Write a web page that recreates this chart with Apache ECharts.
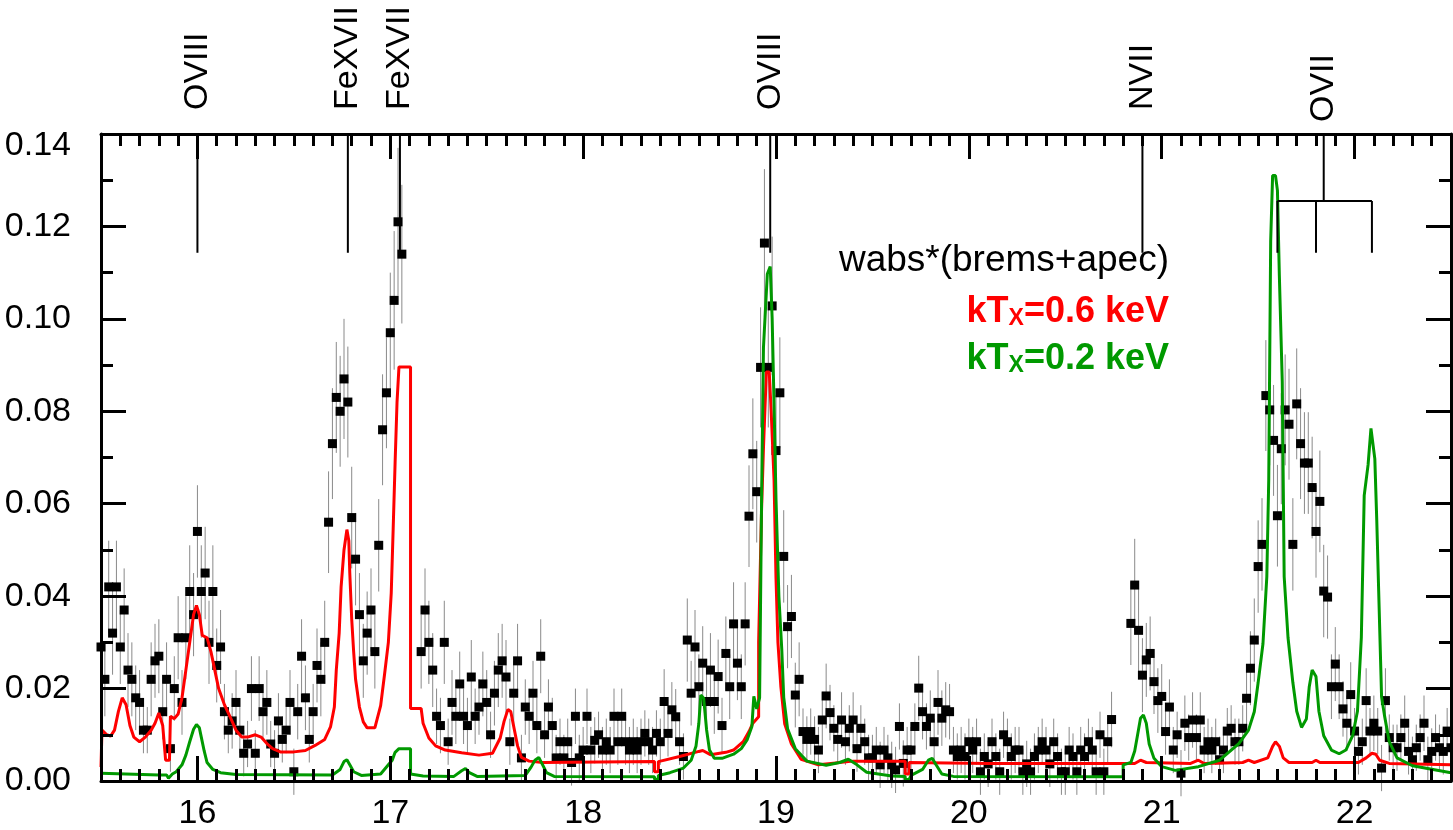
<!DOCTYPE html>
<html><head><meta charset="utf-8">
<script src="https://cdn.jsdelivr.net/npm/echarts@6/dist/echarts.min.js"></script>
<style>html,body{margin:0;padding:0;background:#fff}#c{width:1453px;height:830px}</style>
</head><body><div id="c"></div>
<script>
// wavelength grid of the binned spectrum (Angstrom)
const lamStart = 15.5, lamStep = 0.02;
// observed flux per bin (null = no data)
const flux = [
.029,.022,.042,.032,.042,.029,.037,.024,.022,.018,
.017,.011,.011,.022,.026,.027,.015,.022,.007,.020,
.031,.017,.031,.041,.036,.054,.041,.045,.030,.041,
.025,.029,.015,.011,.013,.017,.011,.006,.008,.020,
.006,.020,.015,.017,.008,.006,.013,.009,.011,.017,
.002,.015,.027,.018,.009,.015,.025,.022,.030,.056,
.073,.083,.080,.087,.082,.057,.048,.036,.026,.032,
.037,.028,.051,.076,.084,.097,.104,.121,.114,null,
null,null,null,.028,.037,.030,.024,.014,.012,.030,
.0085,.017,.014,.021,.014,.012,.0225,.014,.016,.021,
.017,.010,.019,.024,.026,.0225,.0085,.019,.026,.005,
.016,.014,.019,.012,.027,.010,.016,.012,.005,.0085,
.005,.0085,.004,.014,.005,.0067,.014,.0067,.0088,.010,
.0067,.0085,.0067,.014,.0085,.014,.0085,.0067,.0085,.0067,
.0085,.0103,.0085,.0067,.0103,.0085,.0172,.0103,.0154,.0139,
.0085,.0053,.0305,.019,.029,.0204,.0255,.0172,.024,.0172,
.0226,.012,.0276,.0204,.034,.0255,.0204,.034,.0573,.0708,
.0626,.0895,.1164,.0895,.1028,.0715,.084,.0486,.0334,.0356,
.0186,.022,.0107,.009,.0107,.009,.0067,.0132,.0184,.0148,
.0114,.009,.0132,.0085,.0114,.0132,.007,.0114,.0085,.005,
.005,.0067,.0035,.0067,.005,.0035,.0024,.0118,.0038,.0067,
.0067,.0118,.0201,.015,.0118,.0136,.0085,.017,.0136,.0154,
.015,.0067,.0053,.0067,.0053,.0085,.0067,.0085,.002,.0053,
.0037,.0085,.0053,.002,.010,.0085,.0053,.0067,.0067,.002,
.0037,.002,.0053,.0067,.0085,.0067,.0037,.0085,.0053,.002,
.002,.0067,.0053,.002,.0067,.0053,.0085,.0067,.002,.010,
.002,.0085,.0133,null,null,null,null,.0341,.0424,.0326,
.0229,.0262,.0276,.0215,.0174,.0183,.0107,.016,.0067,.010,
.0017,.0125,.0094,.0132,.0094,.0132,.0067,.0085,.0067,.0085,
.0046,.0067,.0108,.0114,.0085,.0085,.0114,.0179,.0244,.0305,
.0464,.0512,.0834,.0803,.0737,.0574,.0719,.0803,.0772,.0512,
.0816,.073,.0688,.0688,.0635,.054,.0605,.0411,.0398,.0204,
.0253,.0204,.0156,.0125,.0187,.0108,.0064,.0085,.0174,.0108,
.0125,.0108,.0028,.0174,.0094,.0072,.0072,.0094,.0125,.0064,
.0046,.0072,.0094,.0125,.0046,.0064,.0094,.0072,.0064,.0108,
.0072
];
// 1-sigma error half-widths, in units of 0.001
const fluxErr = [
8,8,10,9,10,8,9,8,8,7,
7,5,5,8,8,8,6,8,5,7,
9,7,9,10,9,10,10,10,9,10,
8,8,6,5,6,7,5,5,5,7,
5,7,6,7,5,5,6,5,5,7,
5,6,8,7,5,6,8,8,9,11,
12,12,12,13,12,11,10,9,8,9,
9,8,10,12,12,13,15,16,15,0,
0,0,0,8,9,9,8,6,6,9,
5,7,6,7,6,6,8,6,6,7,
7,5,7,8,8,8,5,7,8,5,
6,6,7,6,8,5,6,6,5,5,
5,5,5,6,5,5,6,5,5,5,
5,5,5,6,5,6,5,5,5,5,
5,5,5,5,5,5,7,5,6,6,
5,5,9,7,8,7,8,7,8,7,
8,6,8,7,9,8,7,9,11,12,
11,13,16,13,15,12,12,10,9,9,
7,8,5,5,5,5,5,6,7,6,
5,5,6,5,5,6,5,5,5,5,
5,5,5,5,5,5,5,5,5,5,
5,5,7,6,5,6,5,7,6,6,
6,5,5,5,5,5,5,5,5,5,
5,5,5,5,5,5,5,5,5,5,
5,5,5,5,5,5,5,5,5,5,
5,5,5,5,5,5,5,5,5,5,
5,5,6,0,0,0,0,9,10,9,
8,8,8,7,7,7,5,6,5,5,
5,6,5,6,5,6,5,5,5,5,
5,5,5,5,5,5,5,7,8,9,
10,10,12,12,12,11,12,12,12,10,
12,12,11,11,11,10,11,10,9,7,
8,7,6,6,7,5,5,5,7,5,
6,5,5,7,5,5,5,5,6,5,
5,5,5,6,5,5,5,5,5,5,
5
];
// model kT_X = 0.6 keV  [wavelength, flux]
const redModel = [[15.50,0.003],[15.505,0.011],[15.53,0.010],[15.55,0.0097],[15.57,0.011],[15.59,0.015],[15.61,0.018],[15.63,0.0165],[15.65,0.012],[15.67,0.0095],[15.70,0.0085],[15.73,0.0095],[15.76,0.011],[15.78,0.0125],[15.80,0.0147],[15.82,0.012],[15.835,0.0045],[15.855,0.0045],[15.86,0.014],[15.88,0.0135],[15.90,0.0145],[15.92,0.018],[15.94,0.024],[15.96,0.030],[15.98,0.036],[15.995,0.038],[16.01,0.036],[16.025,0.0315],[16.05,0.031],[16.07,0.028],[16.09,0.024],[16.11,0.020],[16.14,0.0165],[16.17,0.0138],[16.20,0.011],[16.23,0.0095],[16.26,0.0095],[16.30,0.010],[16.33,0.0095],[16.36,0.0081],[16.39,0.007],[16.43,0.0063],[16.50,0.0063],[16.56,0.0066],[16.61,0.0077],[16.66,0.009],[16.69,0.0117],[16.71,0.016],[16.72,0.024],[16.735,0.032],[16.745,0.042],[16.76,0.050],[16.775,0.0544],[16.785,0.052],[16.79,0.045],[16.80,0.035],[16.81,0.028],[16.82,0.022],[16.84,0.016],[16.86,0.0128],[16.88,0.0115],[16.92,0.0115],[16.95,0.0163],[16.97,0.023],[16.99,0.030],[17.005,0.0407],[17.015,0.0546],[17.025,0.0689],[17.035,0.082],[17.045,0.0896],[17.105,0.0896],[17.105,0.0157],[17.16,0.0157],[17.17,0.0125],[17.20,0.0093],[17.235,0.0076],[17.285,0.0067],[17.37,0.0061],[17.46,0.0056],[17.53,0.006],[17.57,0.0093],[17.59,0.0129],[17.61,0.0155],[17.625,0.015],[17.64,0.0118],[17.66,0.0076],[17.68,0.0051],[17.72,0.0043],[17.79,0.0040],[18.37,0.0042],[18.37,0.0020],[18.39,0.0020],[18.39,0.0042],[18.50,0.0053],[18.60,0.0064],[18.62,0.0066],[18.66,0.0057],[18.74,0.0062],[18.78,0.0067],[18.83,0.0085],[18.86,0.0107],[18.88,0.0125],[18.91,0.0139],[18.91,0.030],[18.925,0.0585],[18.935,0.072],[18.95,0.0885],[18.965,0.0885],[18.975,0.080],[18.99,0.065],[19.00,0.0439],[19.01,0.030],[19.025,0.0205],[19.045,0.0124],[19.08,0.008],[19.13,0.0047],[19.22,0.0035],[19.40,0.0043],[19.67,0.0043],[19.67,0.0015],[19.69,0.0015],[19.69,0.0040],[20.10,0.0038],[20.86,0.0038],[20.89,0.0045],[20.92,0.0040],[21.15,0.0038],[21.19,0.0045],[21.22,0.0038],[21.42,0.0040],[21.45,0.0045],[21.48,0.0040],[21.55,0.0050],[21.575,0.0075],[21.59,0.0085],[21.61,0.0075],[21.63,0.0050],[21.66,0.0040],[21.78,0.0040],[21.80,0.0045],[21.82,0.0040],[22.02,0.0040],[22.06,0.0050],[22.09,0.0060],[22.11,0.0058],[22.13,0.0045],[22.18,0.0038],[22.50,0.0035]];
// model kT_X = 0.2 keV  [wavelength, flux]
const greenModel = [[15.50,0.0017],[15.80,0.0013],[15.84,0.0013],[15.85,0.0006],[15.87,0.0015],[15.89,0.002],[15.92,0.0035],[15.94,0.0056],[15.96,0.0085],[15.98,0.0112],[15.995,0.0122],[16.01,0.0115],[16.02,0.0095],[16.035,0.0065],[16.05,0.004],[16.08,0.0025],[16.12,0.0018],[16.20,0.0014],[16.70,0.0013],[16.74,0.0025],[16.76,0.0042],[16.775,0.0046],[16.79,0.0035],[16.81,0.002],[16.85,0.0012],[16.95,0.0015],[16.99,0.0035],[17.01,0.0045],[17.025,0.0062],[17.045,0.007],[17.105,0.007],[17.105,0.0015],[17.17,0.0011],[17.33,0.0010],[17.37,0.0022],[17.39,0.0027],[17.41,0.0018],[17.45,0.0010],[17.70,0.0012],[17.73,0.0030],[17.75,0.0045],[17.77,0.0051],[17.79,0.0035],[17.81,0.0018],[17.85,0.0010],[18.37,0.0009],[18.37,0.0004],[18.39,0.0004],[18.39,0.0012],[18.45,0.0018],[18.52,0.0028],[18.56,0.0045],[18.585,0.0075],[18.60,0.0125],[18.61,0.0186],[18.625,0.0179],[18.64,0.0111],[18.655,0.0067],[18.68,0.0049],[18.72,0.0049],[18.78,0.0058],[18.82,0.0070],[18.85,0.0089],[18.875,0.0118],[18.885,0.0183],[18.90,0.0156],[18.915,0.018],[18.925,0.060],[18.935,0.0938],[18.955,0.1097],[18.97,0.1113],[18.98,0.1002],[18.99,0.0812],[19.00,0.061],[19.015,0.0399],[19.03,0.0284],[19.04,0.0181],[19.06,0.0113],[19.10,0.007],[19.16,0.0043],[19.26,0.0034],[19.33,0.0040],[19.375,0.0047],[19.42,0.0035],[19.47,0.0019],[19.60,0.0011],[19.67,0.0010],[19.67,0.0003],[19.69,0.0003],[19.70,0.0012],[19.76,0.0025],[19.79,0.0045],[19.81,0.0049],[19.83,0.0035],[19.86,0.0015],[19.92,0.0010],[20.80,0.0009],[20.80,0.0035],[20.84,0.0040],[20.86,0.0065],[20.875,0.010],[20.89,0.0136],[20.905,0.0143],[20.92,0.0125],[20.935,0.008],[20.96,0.0049],[21.00,0.0031],[21.07,0.0023],[21.19,0.0031],[21.30,0.0045],[21.40,0.0081],[21.45,0.011],[21.48,0.0150],[21.50,0.0213],[21.525,0.0297],[21.545,0.0442],[21.555,0.0653],[21.565,0.1168],[21.575,0.131],[21.59,0.131],[21.60,0.1278],[21.61,0.1093],[21.625,0.0864],[21.635,0.0442],[21.655,0.031],[21.68,0.0213],[21.70,0.0151],[21.725,0.0116],[21.75,0.0134],[21.765,0.0204],[21.78,0.024],[21.80,0.0226],[21.815,0.0151],[21.84,0.0098],[21.88,0.0067],[21.92,0.0059],[21.955,0.0067],[21.99,0.0098],[22.015,0.0151],[22.035,0.031],[22.05,0.0618],[22.07,0.0684],[22.085,0.0763],[22.095,0.0763],[22.105,0.0697],[22.115,0.0565],[22.125,0.0411],[22.14,0.0182],[22.155,0.0142],[22.18,0.0085],[22.22,0.005],[22.30,0.0033],[22.50,0.0018]];
// line identifications
const lineNames = ['OVIII','FeXVII','FeXVII','OVIII','NVII'];
const lineLams = [16.00, 16.78, 17.05, 18.97, 20.90];
const oviiName = 'OVII';
const oviiLams = [21.60, 21.80, 22.09];
const oviiCenter = 21.84;
const markTop = 0.14, markBottom = 0.1143, bracketLevel = 0.1255;
const xTickFmt = v => String(v);
const yTickFmt = v => (Math.abs(v - 0.14) < 1e-9 ? '{t|' + v.toFixed(2) + '}' : v.toFixed(2));

const FONT = '"Liberation Sans", Arial, Helvetica, sans-serif';
const dataPts = [], errBars = [];
flux.forEach((f, i) => {
  if (f === null) return;
  const lam = +(lamStart + i * lamStep).toFixed(3);
  const e = fluxErr[i] * 0.001;
  dataPts.push([lam, f]);
  errBars.push([lam, f - e, f + e]);
});
const segs = [];
lineLams.forEach(l => segs.push([l, markTop, l, markBottom]));
segs.push([oviiCenter, markTop, oviiCenter, bracketLevel]);
segs.push([oviiLams[0], bracketLevel, oviiLams[2], bracketLevel]);
oviiLams.forEach(l => segs.push([l, bracketLevel, l, markBottom]));

const TICK = { color: '#000', width: 3 };
const axX = (pos, showLabel) => ({
  type: 'value', position: pos, min: 15.5, max: 22.5, splitNumber: 7, z: 6,
  axisLine: { show: true, onZero: false, lineStyle: { color: '#000', width: 3 } },
  axisTick: { show: true, inside: true, length: 25, lineStyle: TICK },
  minorTick: { show: true, splitNumber: 10, length: 12, lineStyle: TICK },
  splitLine: { show: false }, minorSplitLine: { show: false },
  axisLabel: { show: showLabel, fontSize: 34, fontFamily: FONT, color: '#000', margin: 16,
    showMinLabel: false, showMaxLabel: false, formatter: xTickFmt }
});
const axY = (pos, showLabel) => ({
  type: 'value', position: pos, min: 0, max: 0.14, interval: 0.02, z: 6,
  axisLine: { show: true, onZero: false, lineStyle: { color: '#000', width: 3 } },
  axisTick: { show: true, inside: true, length: 25, lineStyle: TICK },
  minorTick: { show: true, splitNumber: 2, length: 12, lineStyle: TICK },
  splitLine: { show: false }, minorSplitLine: { show: false },
  axisLabel: { show: showLabel, fontSize: 34, fontFamily: FONT, color: '#000', margin: 30, formatter: yTickFmt,
    rich: { t: { fontSize: 34, fontFamily: FONT, color: '#000', padding: [24, 0, 0, 0] } } }
});

const chart = echarts.init(document.getElementById('c'), null, { renderer: 'canvas' });
const option = {
  animation: false,
  backgroundColor: '#fff',
  grid: { left: 101, right: 2, top: 134, bottom: 49, containLabel: false, outerBoundsMode: 'none' },
  xAxis: [axX('bottom', true), axX('top', false)],
  yAxis: [axY('left', true), axY('right', false)],
  series: [
    { type: 'custom', name: 'err', z: 1, silent: true, data: errBars, encode: { x: 0, y: [1, 2] },
      renderItem: (params, api) => {
        const x = api.value(0);
        const a = api.coord([x, api.value(1)]), b = api.coord([x, api.value(2)]);
        return { type: 'line', shape: { x1: a[0], y1: a[1], x2: b[0], y2: b[1] },
          style: { stroke: '#8a8a8a', lineWidth: 1 } };
      } },
    { type: 'scatter', name: 'data', z: 2, silent: true, data: dataPts, symbol: 'rect', symbolSize: 9,
      itemStyle: { color: '#000', opacity: 1 } },
    { type: 'line', name: 'kT06', z: 3, data: redModel, showSymbol: false, silent: true,
      lineStyle: { color: '#ff0000', width: 3 }, clip: true },
    { type: 'line', name: 'kT02', z: 4, data: greenModel, showSymbol: false, silent: true,
      lineStyle: { color: '#009900', width: 3 }, clip: true },
    { type: 'custom', name: 'ids', z: 5, silent: true, data: segs, encode: { x: [0, 2], y: [1, 3] },
      renderItem: (params, api) => {
        const a = api.coord([api.value(0), api.value(1)]), b = api.coord([api.value(2), api.value(3)]);
        return { type: 'line', shape: { x1: a[0], y1: a[1], x2: b[0], y2: b[1] },
          style: { stroke: '#000', lineWidth: 2 } };
      } }
  ]
};
chart.setOption(option);

const graphics = [];
const addId = (name, lam, off) => {
  const p = chart.convertToPixel({ xAxisIndex: 0, yAxisIndex: 0 }, [lam, markTop]);
  graphics.push({ type: 'text', x: p[0], y: p[1] - off, rotation: Math.PI / 2, z: 10,
    style: { text: name, fontSize: 34, fontFamily: FONT, fill: '#000', textAlign: 'left', textVerticalAlign: 'middle' } });
};
lineNames.forEach((n, i) => addId(n, lineLams[i], 24));
addId(oviiName, oviiCenter, 12);

graphics.push({ type: 'text', x: 1169, y: 261, z: 10,
  style: { text: 'wabs*(brems+apec)', fontSize: 37, fontFamily: FONT, fill: '#000', textAlign: 'right', textVerticalAlign: 'middle' } });
const ktText = (val, color, y) => ({ type: 'text', x: 1169, y: y, z: 10,
  style: { text: '{a|kT}{b|X}{a|=' + val + ' keV}', textAlign: 'right', textVerticalAlign: 'middle',
    rich: {
      a: { fontSize: 36, fontWeight: 'bold', fontFamily: FONT, fill: color, lineHeight: 40, verticalAlign: 'bottom' },
      b: { fontSize: 23, fontWeight: 'bold', fontFamily: FONT, fill: color, lineHeight: 14, verticalAlign: 'bottom' }
    } } });
graphics.push(ktText('0.6', '#ff0000', 310));
graphics.push(ktText('0.2', '#009900', 357));
chart.setOption({ graphic: graphics });
</script></body></html>
